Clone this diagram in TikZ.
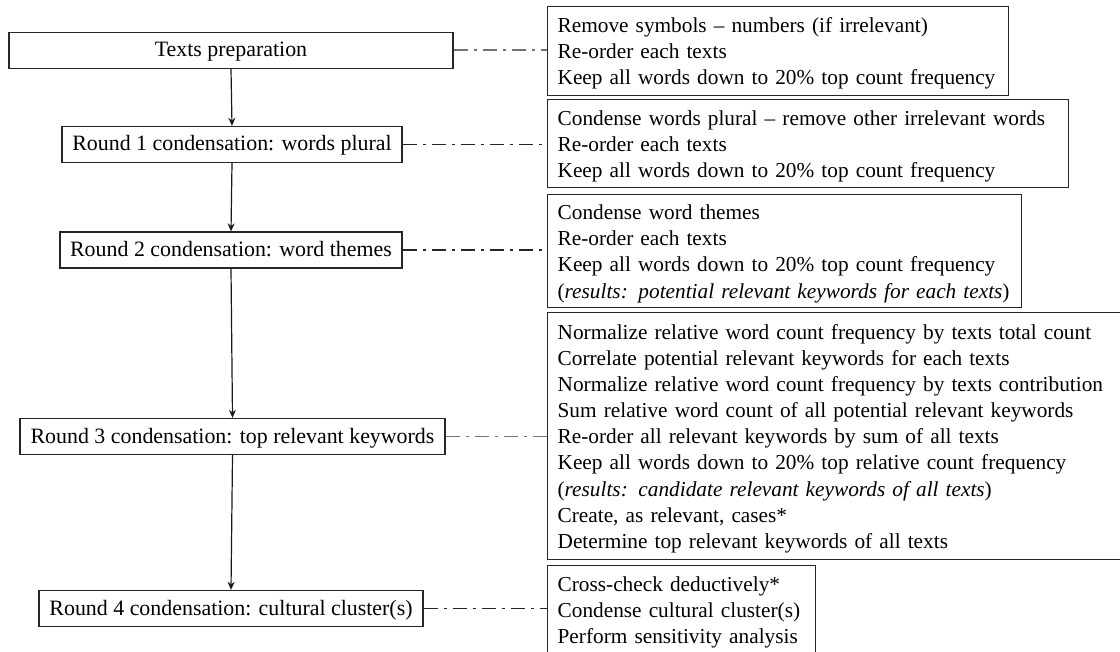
\documentclass[tikz,border=0pt]{standalone}
\usepackage{fontspec}
\setmainfont{Liberation Serif}
\usetikzlibrary{arrows.meta}
% one left-aligned line per row, never wrapped, set a little low in its box
\newcommand\tasklines[1]{\raisebox{-2.5pt}[\height][\depth]{\begin{tabular}{@{}l@{}}#1\end{tabular}}}
\begin{document}
\begin{tikzpicture}[x=1pt,y=-1pt,
  every node/.style={text=black},
  stage/.style={draw=black!85, line width=1.3pt, inner sep=0pt, minimum height=36pt,
                text height=17pt, text depth=4pt,
                font=\fontsize{21.9}{26.1}\selectfont},
  notes/.style={draw=black!85, line width=1.3pt, anchor=north west, align=left,
                inner xsep=10pt, inner ysep=0pt, font=\fontsize{21.3}{26.1}\selectfont},
  link/.style={line width=1.3pt, dash pattern=on 14pt off 6pt on 3pt off 6pt},
  flow/.style={line width=1.2pt, draw=black!90, -{Stealth[length=8pt,width=7pt]}}]
\useasboundingbox (0,0) rectangle (1120,652);

% condensation stages
\node[stage, minimum width=444pt] (t0) at (231,50.5) {Texts preparation};
\node[stage, minimum width=340pt] (r1) at (232,144.5) {Round 1 condensation: words plural};
\node[stage, minimum width=342pt] (r2) at (231,250) {Round 2 condensation: word themes};
\node[stage, minimum width=425pt] (r3) at (232.5,436.5) {Round 3 condensation: top relevant keywords};
\node[stage, minimum width=384pt] (r4) at (231,608.5) {Round 4 condensation: cultural cluster(s)};

% task lists
\node[notes, text width=441pt, minimum height=89pt] (b1) at (547,6) {\tasklines{%
  Remove symbols \textendash\ numbers (if irrelevant)\\
  Re-order each texts\\
  Keep all words down to 20\% top count frequency}};
\node[notes, text width=501pt, minimum height=88pt] (b2) at (547,99) {\tasklines{%
  Condense words plural \textendash\ remove other irrelevant words\\
  Re-order each texts\\
  Keep all words down to 20\% top count frequency}};
\node[notes, text width=454pt, minimum height=113pt] (b3) at (547,194) {\tasklines{%
  Condense word themes\\
  Re-order each texts\\
  Keep all words down to 20\% top count frequency\\
  (\textit{results: potential relevant keywords for each texts})}};
\node[notes, text width=556pt, minimum height=247pt] (b4) at (547,312) {\tasklines{%
  Normalize relative word count frequency by texts total count\\
  Correlate potential relevant keywords for each texts\\
  Normalize relative word count frequency by texts contribution\\
  Sum relative word count of all potential relevant keywords\\
  Re-order all relevant keywords by sum of all texts\\
  Keep all words down to 20\% top relative count frequency\\
  (\textit{results: candidate relevant keywords of all texts})\\
  Create, as relevant, cases*\\
  Determine top relevant keywords of all texts}};
\node[notes, text width=248pt, minimum height=89pt] (b5) at (547,565) {\tasklines{%
  Cross-check deductively*\\
  Condense cultural cluster(s)\\
  Perform sensitivity analysis}};

% flow between stages
\draw[flow] (t0.south) -- (r1.north);
\draw[flow] (r1.south) -- (r2.north);
\draw[flow] (r2.south) -- (r3.north);
\draw[flow] (r3.south) -- (r4.north);

% stage-to-task links
\draw[link, draw=black!55, line width=2pt] (t0.east) -- (t0.east -| b1.west);
\draw[link, draw=black!85] (r1.east) -- (r1.east -| b2.west);
\draw[link, draw=black!85] (r2.east) -- (r2.east -| b3.west);
\draw[link, draw=black!55, line width=1.8pt] (r3.east) -- (r3.east -| b4.west);
\draw[link, draw=black!85] (r4.east) -- (r4.east -| b5.west);
\end{tikzpicture}
\end{document}
